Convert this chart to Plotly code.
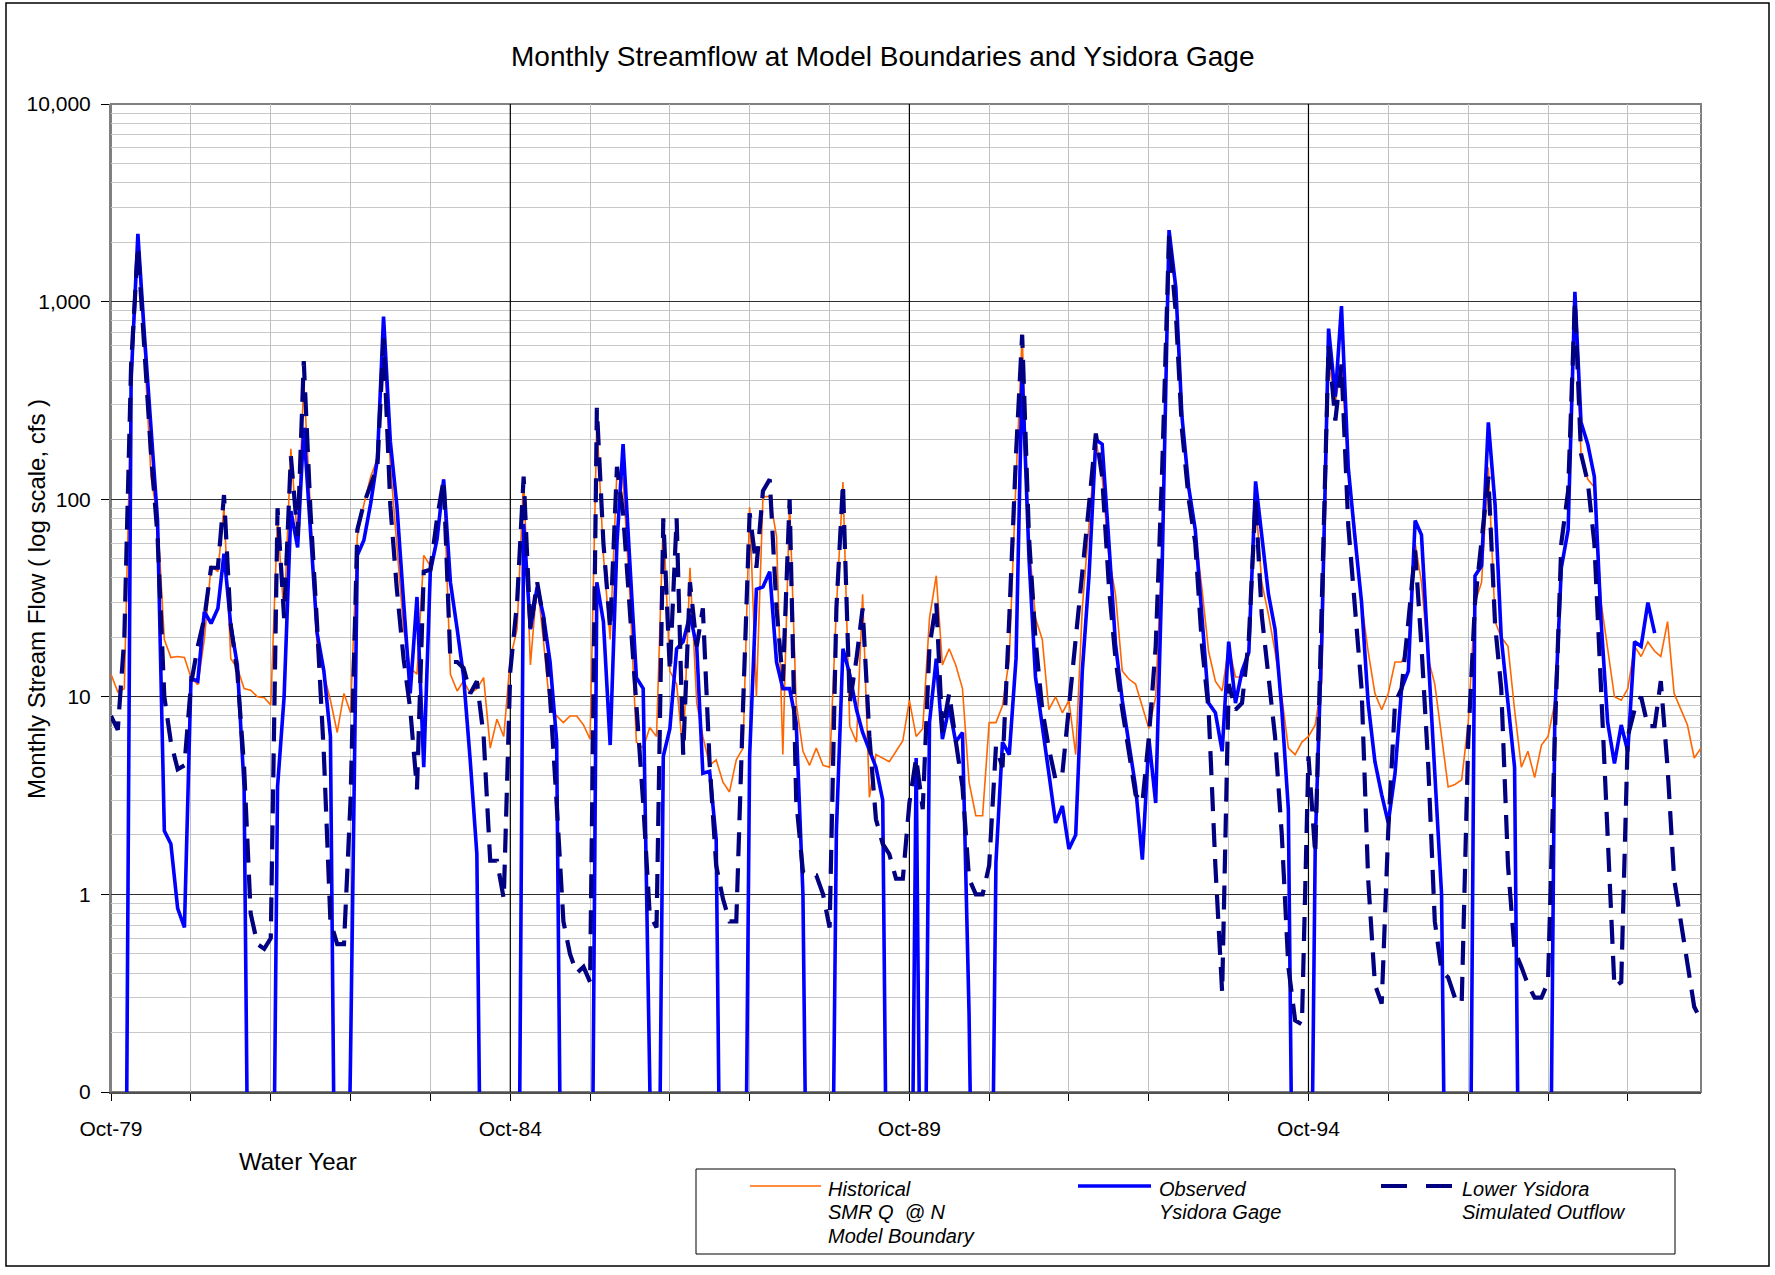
import pandas as pd
import plotly.graph_objects as go

# ---------------- data (monthly, Oct-79 .. Sep-99) ----------------
months = pd.date_range("1979-10-01", periods=240, freq="MS")

historical = [
    13, 10.6, 11, 350, 1900, 600, 130, 80, 19.5, 15.8, 16, 15.8,
    12.5, 11.5, 19.5, 46, 43, 91, 15.6, 14, 11, 10.8, 10, 9.9,
    9.1, 80, 25, 180, 60, 400, 87, 18, 13, 9.6, 6.6, 10.4,
    8.3, 65, 94, 130, 160, 650, 150, 60, 22, 14, 13, 52,
    46, 64, 126, 13, 10.7, 12, 10.4, 11, 12.5, 5.5, 7.7, 6.3,
    15.6, 22, 130, 14.5, 38, 19.5, 8.6, 8, 7.4, 8, 8, 7.2,
    6.1, 250, 52, 19.5, 140, 126, 33, 5.9, 5.5, 7, 6.3, 80,
    13.5, 11.6, 5.1, 45, 9.3, 6.3, 4.5, 4.8, 3.7, 3.3, 4.8, 5.5,
    91, 10, 103, 103, 65, 5.1, 98, 9.3, 5.3, 4.5, 5.5, 4.5,
    4.4, 28, 122, 7.1, 5.9, 33, 3.1, 5.1, 4.9, 4.7, 5.3, 6.0,
    9.6, 6.3, 6.9, 25, 41, 14.5, 17.5, 14.5, 11, 3.7, 2.5, 2.5,
    7.4, 7.4, 9, 15.6, 126, 680, 60, 25, 19.5, 8.6, 10, 8.3,
    9.6, 5.1, 28, 75, 200, 130, 51, 33, 13.5, 12.3, 11.6, 8.9,
    6.9, 10, 60, 2000, 1100, 250, 110, 68, 35, 17, 12, 10.7,
    18, 12.6, 12.6, 17, 100, 38, 26, 17, 10, 5.5, 5.1, 5.9,
    6.3, 7.2, 12, 500, 310, 480, 140, 72, 30, 17, 10.4, 8.6,
    10.4, 15, 15, 18, 60, 38, 15.6, 11.6, 6.3, 3.5, 3.6, 3.8,
    7.4, 30, 38, 145, 24, 20, 18, 8.6, 4.4, 5.3, 3.9, 5.7,
    6.3, 9.3, 45, 70, 1000, 170, 126, 115, 30, 17, 10, 9.6,
    11, 18, 16, 19, 17, 16, 24, 10.4, 8.6, 7.2, 4.9, 5.5,
]

# 0 = no flow recorded, None = no record
observed = [
    0, 0, 0, 400, 2200, 700, 230, 78, 2.1, 1.8, 0.85, 0.68,
    12.4, 12, 27, 23.5, 28, 53, 23, 14.5, 3.5, 0, 0, 0,
    0, 3.5, 10, 87, 57, 230, 70, 21, 13.5, 6.3, 0, 0,
    0.15, 52, 62, 95, 160, 840, 196, 93, 30, 10.4, 32, 4.4,
    43, 63, 126, 38, 22, 12.7, 4.7, 1.6, 0, 0, 0, 0,
    0, 0, 75, 22, 36, 26, 15, 6, 0, 0, 0, 0,
    0, 38, 24, 5.7, 60, 190, 45, 12.5, 11, 0.3, 0, 5,
    6.9, 17.5, 19, 26, 18, 4.1, 4.2, 1.9, 0, 0, 0, 0,
    5, 35, 36, 43, 15, 11, 11, 7.4, 1.0, 0, 0, 0,
    0, 2.1, 17.5, 13, 8.6, 6.6, 5.3, 4.4, 3.0, 0, 0, 0,
    0, 4.9, 0, 7.4, 15.6, 6.1, 8.9, 5.9, 6.6, 0.25, 0, 0,
    0, 1.45, 5.9, 5.1, 15.6, 450, 51, 12.6, 6.9, 4.1, 2.3, 2.8,
    1.7, 2.0, 13.4, 41, 200, 190, 60, 18.5, 9.6, 5.9, 3.5, 1.5,
    6.1, 2.9, 48, 2300, 1180, 263, 115, 70, 26, 9.3, 8.3, 5.3,
    19, 9.3, 13.5, 16.8, 123, 66, 33, 22, 8.6, 2.7, 0, 0,
    0, 1.8, 20, 730, 330, 950, 145, 65, 30, 9.3, 4.7, 3.2,
    2.3, 4.1, 11, 13.5, 78, 66, 17, 4.4, 1.0, 0, 0, 0,
    0, 41, 46, 245, 93, 20, 9.3, 4.4, 0, 0, 0, 0,
    0, 8, 45, 70, 1120, 245, 190, 130, 24, 7.4, 4.6, 7.2,
    5.3, 19, 18, 30, 21, None, None, None, None, None, None, None,
]

simulated = [
    8, 6.8, 20, 480, 1900, 600, 170, 65, 10, 5.9, 4.3, 4.5,
    11.6, 18, 25, 45, 45, 105, 23, 13.3, 4.4, 0.8, 0.56, 0.53,
    0.6, 90, 25, 165, 65, 500, 86, 23, 5.1, 0.73, 0.56, 0.56,
    3, 70, 95, 118, 146, 650, 93, 35, 15.5, 8.7, 3.4, 43,
    44, 80, 126, 15, 15, 14, 10.4, 12, 6.3, 1.48, 1.48, 0.95,
    13.5, 30, 130, 22, 38, 25, 10, 2.9, 0.73, 0.5, 0.4, 0.43,
    0.36, 290, 60, 22, 146, 85, 28, 9.3, 2.9, 0.79, 0.68, 80,
    13.5, 80, 5.1, 38, 18, 28, 4.6, 1.4, 0.95, 0.73, 0.73, 9,
    85, 45, 110, 126, 28, 12, 100, 3, 1.3, 1.25, 1.25, 1.0,
    0.68, 28, 120, 9.3, 15.6, 28, 6.3, 2.4, 1.8, 1.6, 1.2, 1.2,
    2.9, 4.9, 2.7, 18, 30, 6.6, 10.4, 6.0, 3.5, 1.2, 1.0, 1.0,
    1.4, 5.6, 4.4, 25, 170, 680, 65, 19.5, 8.6, 5.5, 3.8, 4.1,
    8.6, 19.5, 41, 94, 215, 130, 36, 15.6, 8.6, 5.1, 3.2, 2.9,
    6.3, 18, 146, 2150, 880, 226, 100, 60, 18, 8.6, 1.4, 0.32,
    11.6, 8.6, 9.3, 19.5, 100, 26, 12.6, 6.3, 2.0, 0.43, 0.23, 0.22,
    5.0, 1.6, 30, 600, 250, 480, 74, 28, 11, 1.2, 0.35, 0.28,
    2.1, 9.3, 11, 24, 55, 18, 4.5, 0.73, 0.41, 0.38, 0.30, 0.28,
    6, 30, 60, 130, 23, 11, 1.4, 0.52, 0.43, 0.35, 0.30, 0.30,
    0.36, 6.3, 60, 110, 1000, 170, 122, 60, 10.8, 2.0, 0.34, 0.36,
    6.3, 8.6, 10, 7.1, 7.1, 12, 4.4, 1.2, 0.73, 0.45, 0.27, 0.23,
]

year_ticks = pd.date_range("1979-10-01", "1998-10-01", freq="12MS")
labelled_ticks = {"1979-10-01": "Oct-79", "1984-10-01": "Oct-84",
                  "1989-10-01": "Oct-89", "1994-10-01": "Oct-94"}
major_year_lines = ["1984-10-01", "1989-10-01", "1994-10-01"]

y_tickvals = [0.1, 1, 10, 100, 1000, 10000]
y_ticktext = ["0", "1", "10", "100", "1,000", "10,000"]

legend_names = [["Historical", "SMR Q  @ N", "Model Boundary"],
                ["Observed", "Ysidora Gage"],
                ["Lower Ysidora", "Simulated Outflow"]]

# zero flow cannot sit on a log axis: draw it far below the axis floor
ZERO_FLOOR = 0.001
obs_plot = [None if v is None else (v if v > 0 else ZERO_FLOOR) for v in observed]

FONT = "Liberation Sans, Arial, sans-serif"
ORANGE = "#FF6600"
BLUE = "#0000FF"
NAVY = "#000080"
DASH = "24px,12px"
LEG_DASH = "26px,19px"

# ---------------- figure ----------------
W, H = 1775, 1275
PL, PR, PT, PB = 111, 1701, 104, 1092


def px(x):
    return (x - PL) / (PR - PL)


def py(y):
    return (PB - y) / (PB - PT)


fig = go.Figure()

# dark 5-year grid lines (drawn as a trace so they sit above the light grid, below the data)
vx, vy = [], []
for d in major_year_lines:
    vx += [d, d, None]
    vy += [y_tickvals[0], y_tickvals[-1], None]
fig.add_trace(go.Scatter(x=vx, y=vy, mode="lines", line=dict(color="black", width=1.2),
                         hoverinfo="skip", showlegend=False))

fig.add_trace(go.Scatter(x=months, y=historical, mode="lines",
                         line=dict(color=ORANGE, width=1.6), showlegend=False))
fig.add_trace(go.Scatter(x=months, y=obs_plot, mode="lines",
                         line=dict(color=BLUE, width=3.6), showlegend=False))
fig.add_trace(go.Scatter(x=months, y=simulated, mode="lines",
                         line=dict(color=NAVY, width=4.2, dash=DASH), showlegend=False))

tick_text = [labelled_ticks.get(d.strftime("%Y-%m-%d"), "") for d in year_ticks]

fig.update_layout(
    width=W, height=H,
    margin=dict(l=PL, r=W - PR, t=PT, b=H - PB),
    paper_bgcolor="white", plot_bgcolor="white",
    font=dict(family=FONT, color="black", size=21),
    showlegend=False,
    xaxis=dict(
        type="date",
        range=[months[0], months[-1]],
        tickmode="array", tickvals=list(year_ticks), ticktext=tick_text,
        ticks="outside", ticklen=7, tickcolor="black", tickwidth=1,
        showgrid=True, gridcolor="#c0c0c0", gridwidth=1,
        showline=True, linecolor="#505050", linewidth=2,
        tickfont=dict(size=21), ticklabelstandoff=10,
        zeroline=False,
    ),
    yaxis=dict(
        type="log",
        range=[-1, 4],
        tickmode="array", tickvals=y_tickvals, ticktext=y_ticktext,
        ticks="outside", ticklen=8, tickcolor="black", tickwidth=1,
        showgrid=True, gridcolor="#303030", gridwidth=1,
        minor=dict(dtick="D1", showgrid=True, gridcolor="#c8c8c8", gridwidth=1, ticks=""),
        showline=True, linecolor="#808080", linewidth=2,
        tickfont=dict(size=21), ticklabelstandoff=6,
        zeroline=False,
    ),
)

shapes = []
# plot-area frame
shapes.append(dict(type="rect", xref="paper", yref="paper", x0=0, x1=1, y0=0, y1=1,
                   line=dict(color="#808080", width=2), layer="between"))
# outer chart border
shapes.append(dict(type="rect", xref="paper", yref="paper",
                   x0=px(6), x1=px(1769), y0=py(1266), y1=py(3),
                   line=dict(color="black", width=1.5)))
# legend box
shapes.append(dict(type="rect", xref="paper", yref="paper",
                   x0=px(696), x1=px(1675), y0=py(1254), y1=py(1169),
                   line=dict(color="black", width=1)))
# legend samples
leg_y = py(1186)
shapes.append(dict(type="line", xref="paper", yref="paper", x0=px(750), x1=px(821),
                   y0=leg_y, y1=leg_y, line=dict(color=ORANGE, width=1.6)))
shapes.append(dict(type="line", xref="paper", yref="paper", x0=px(1078), x1=px(1151),
                   y0=leg_y, y1=leg_y, line=dict(color=BLUE, width=3.6)))
shapes.append(dict(type="line", xref="paper", yref="paper", x0=px(1381), x1=px(1452),
                   y0=leg_y, y1=leg_y, line=dict(color=NAVY, width=4.2, dash=LEG_DASH)))
fig.update_layout(shapes=shapes)

ann = []
ann.append(dict(text="Monthly Streamflow at Model Boundaries and Ysidora Gage",
                x=px(882), y=py(57), xref="paper", yref="paper",
                xanchor="center", yanchor="middle", showarrow=False,
                font=dict(size=28, family=FONT)))
ann.append(dict(text="Monthly Stream Flow ( log scale, cfs )",
                x=px(36), y=py(599), xref="paper", yref="paper", textangle=-90,
                xanchor="center", yanchor="middle", showarrow=False,
                font=dict(size=24, family=FONT)))
ann.append(dict(text="Water Year", x=px(298), y=py(1161), xref="paper", yref="paper",
                xanchor="center", yanchor="middle", showarrow=False,
                font=dict(size=24, family=FONT)))
text_x = [826, 1157, 1460]
line_ys = [1189, 1212, 1236]
for tx, names in zip(text_x, legend_names):
    for ly, name in zip(line_ys, names):
        ann.append(dict(text="<i>" + name + "</i>", x=px(tx), y=py(ly),
                        xref="paper", yref="paper", xanchor="left", yanchor="middle",
                        showarrow=False, font=dict(size=20, family=FONT)))
fig.update_layout(annotations=ann)

fig.write_html("out.html")
